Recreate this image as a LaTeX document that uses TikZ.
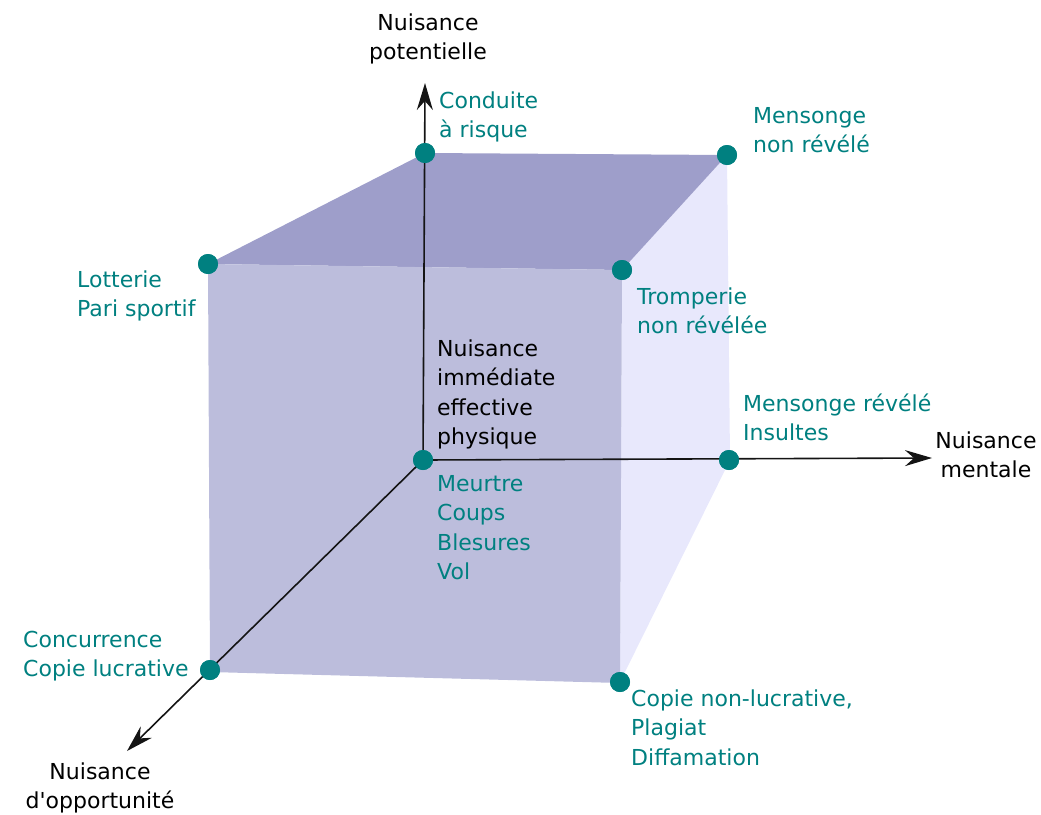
\documentclass[tikz,border=0pt]{standalone}
\usepackage{fontspec}
\setmainfont{DejaVu Sans}
\usetikzlibrary{arrows.meta}
\definecolor{frontc}{RGB}{188,189,220}
\definecolor{topc}{RGB}{158,158,202}
\definecolor{sidec}{RGB}{232,232,252}
\definecolor{tealc}{RGB}{0,128,128}
\definecolor{axisc}{RGB}{20,20,20}
\begin{document}
\begin{tikzpicture}[x=1pt,y=-1pt,
  dot/.style={circle,fill=tealc,minimum size=20pt,inner sep=0pt},
  lab/.style={font=\fontsize{22}{29.5}\selectfont,align=left,inner sep=0pt,text=tealc,anchor=base west},
  blab/.style={font=\fontsize{22}{29.5}\selectfont,align=center,inner sep=0pt,text=black,anchor=base},
  klab/.style={font=\fontsize{22}{29.5}\selectfont,align=left,inner sep=0pt,text=black,anchor=base west},
  axis/.style={draw=axisc,line width=1.6pt,-{Stealth[length=27pt,width=16pt,inset=9pt]}}]
\useasboundingbox (0,0) rectangle (1041,814);
% cube faces
\fill[sidec] (622,270) -- (727,155) -- (730,460) -- (620,682) -- cycle;
\fill[topc] (208,264) -- (425,153) -- (727,155) -- (622,270) -- cycle;
\fill[frontc] (208,264) -- (622,270) -- (620,683) -- (210,672) -- cycle;
% dots
\node[dot] (o) at (423,460) {};
\node[dot] (ctop) at (425,153) {};
\node[dot] (cmr) at (727,155) {};
\node[dot] (ftl) at (208,264) {};
\node[dot] (ftr) at (622,270) {};
\node[dot] (mr) at (729,460) {};
\node[dot] (fbl) at (210,670) {};
\node[dot] (fbr) at (620,682) {};
\coordinate (ytip) at (425,83);
\coordinate (xtip) at (932,458);
\coordinate (ztip) at (127,751);
% axes
\draw[axis] (o.center) -- (ytip);
\draw[axis] (o.center) -- (xtip);
\draw[axis] (o.center) -- (ztip);
% redraw dots on top
\foreach \n in {o,ctop,cmr,ftl,ftr,mr,fbl,fbr} \fill[tealc] (\n) circle (10pt);
% labels
\node[blab] (lpot) at (428,59.5) {Nuisance\\potentielle};
\node[blab] (lment) at (986,477.5) {Nuisance\\mentale};
\node[blab] (lopp) at (100,808.5) {Nuisance\\d\textquotesingle opportunité};
\node[klab] (limm) at (437,444.5) {Nuisance\\immédiate\\effective\\physique};
\node[lab] (lcond) at (439,137.5) {Conduite\\à risque};
\node[lab] (lmnr) at (753,152.5) {Mensonge\\non révélé};
\node[lab] (llot) at (77,316.5) {Lotterie\\Pari sportif};
\node[lab] (ltrom) at (637,333.5) {Tromperie\\non révélée};
\node[lab] (lmr) at (743,440.5) {Mensonge révélé\\Insultes};
\node[lab] (lmeu) at (437,579.5) {Meurtre\\Coups\\Blesures\\Vol};
\node[lab] (lconc) at (23,676.5) {Concurrence\\Copie lucrative};
\node[lab] (lcop) at (631,765) {Copie non-lucrative,\\Plagiat\\Diffamation};
\end{tikzpicture}
\end{document}
